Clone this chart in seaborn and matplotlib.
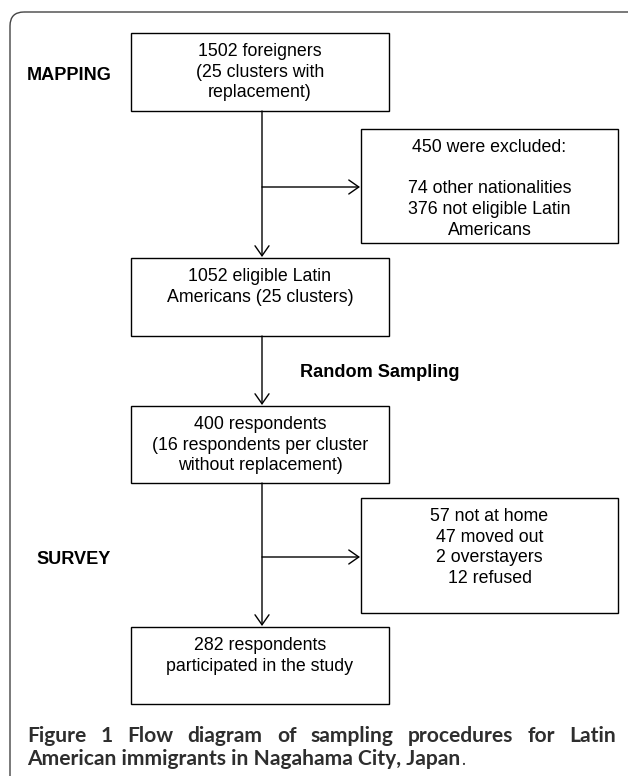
import matplotlib
matplotlib.use("Agg")
import matplotlib.pyplot as plt
from matplotlib.patches import Rectangle, FancyBboxPatch
import seaborn as sns

sns.set_theme(style="white")
plt.rcParams["font.family"] = ["Liberation Sans", "DejaVu Sans"]

# ---- data (texts of the flow diagram) ----
box1_lines = ["1502 foreigners", "(25 clusters with", "replacement)"]
box2_lines = ["450 were excluded:", "", "74 other nationalities",
              "376 not eligible Latin", "Americans"]
box3_lines = ["1052 eligible Latin", "Americans (25 clusters)"]
box4_lines = ["400 respondents", "(16 respondents per cluster",
              "without replacement)"]
box5_lines = ["57 not at home", "47 moved out", "2 overstayers", "12 refused"]
box6_lines = ["282 respondents", "participated in the study"]
stage_labels = ["MAPPING", "Random Sampling", "SURVEY"]
caption_line1 = "Figure 1 Flow diagram of sampling procedures for Latin"
caption_line2 = "American immigrants in Nagahama City, Japan"

# ---- layout (pixel coordinates, y downward) ----
W, H = 628, 776
box_geom = [  # x, y, w, h
    (131, 33, 258, 78),
    (361, 129, 257, 114),
    (131, 258, 258, 78),
    (131, 406, 258, 77),
    (361, 498, 257, 115),
    (131, 627, 258, 77),
]
box_texts = [box1_lines, box2_lines, box3_lines, box4_lines, box5_lines, box6_lines]
label_pos = [(27, 80, "left"), (300, 377, "left"), (36, 564, "left")]
arrows = [
    ((262, 111), (262, 257)),
    ((262, 187), (360, 187)),
    ((262, 336), (262, 405)),
    ((262, 483), (262, 626)),
    ((262, 557), (360, 557)),
]

fig = plt.figure(figsize=(W / 100, H / 100), dpi=100)
ax = fig.add_axes([0, 0, 1, 1])
ax.set_xlim(0, W)
ax.set_ylim(H, 0)
ax.axis("off")

# outer rounded frame (extends beyond the image)
frame = FancyBboxPatch((10, 12), 700, 900,
                       boxstyle="round,pad=0,rounding_size=14",
                       fill=False, edgecolor="#444444", linewidth=1.0)
ax.add_patch(frame)

fs = 12.8
lh = 20.7
for (x, y, w, h), lines in zip(box_geom, box_texts):
    ax.add_patch(Rectangle((x, y), w, h, fill=False, edgecolor="black",
                           linewidth=1.0))
    cx = x + w / 2
    for i, s in enumerate(lines):
        if s:
            ax.text(cx, y + 23 + i * lh, s, ha="center", va="baseline",
                    fontsize=fs, color="black")

for (x, y, ha), s in zip(label_pos, stage_labels):
    ax.text(x, y, s, ha=ha, va="baseline", fontsize=13.1,
            fontweight="bold", color="black")

for (x0, y0), (x1, y1) in arrows:
    ax.annotate("", xy=(x1, y1), xytext=(x0, y0),
                arrowprops=dict(arrowstyle="->,head_length=0.6,head_width=0.42",
                                color="black", lw=1.0, shrinkA=0, shrinkB=0))

# caption, justified first line
renderer = fig.canvas.get_renderer()
cap_font = ["Lato", "DejaVu Sans"]
cap_color = "#2e2e2e"
probe = ax.text(0, 0, caption_line2, fontsize=10, fontweight="bold",
                family=cap_font)
pw = probe.get_window_extent(renderer).width
probe.remove()
cfs = 10 * 433 / pw

words = caption_line1.split()
wtexts = [ax.text(0, 742, wd, fontsize=cfs, fontweight="bold",
                  family=cap_font, color=cap_color, va="baseline")
          for wd in words]
widths = [t.get_window_extent(renderer).width for t in wtexts]
gap = (616 - 27 - sum(widths)) / (len(words) - 1)
xc = 27
for t, wd in zip(wtexts, widths):
    t.set_x(xc)
    xc += wd + gap

t2 = ax.text(27, 765, caption_line2, fontsize=cfs, fontweight="bold",
             family=cap_font, color=cap_color, va="baseline")
e = t2.get_window_extent(renderer)
ax.text(27 + e.width + 1, 765, ".", fontsize=cfs * 0.8, family=cap_font,
        color=cap_color, va="baseline")

fig.savefig("out.png", dpi=100)
